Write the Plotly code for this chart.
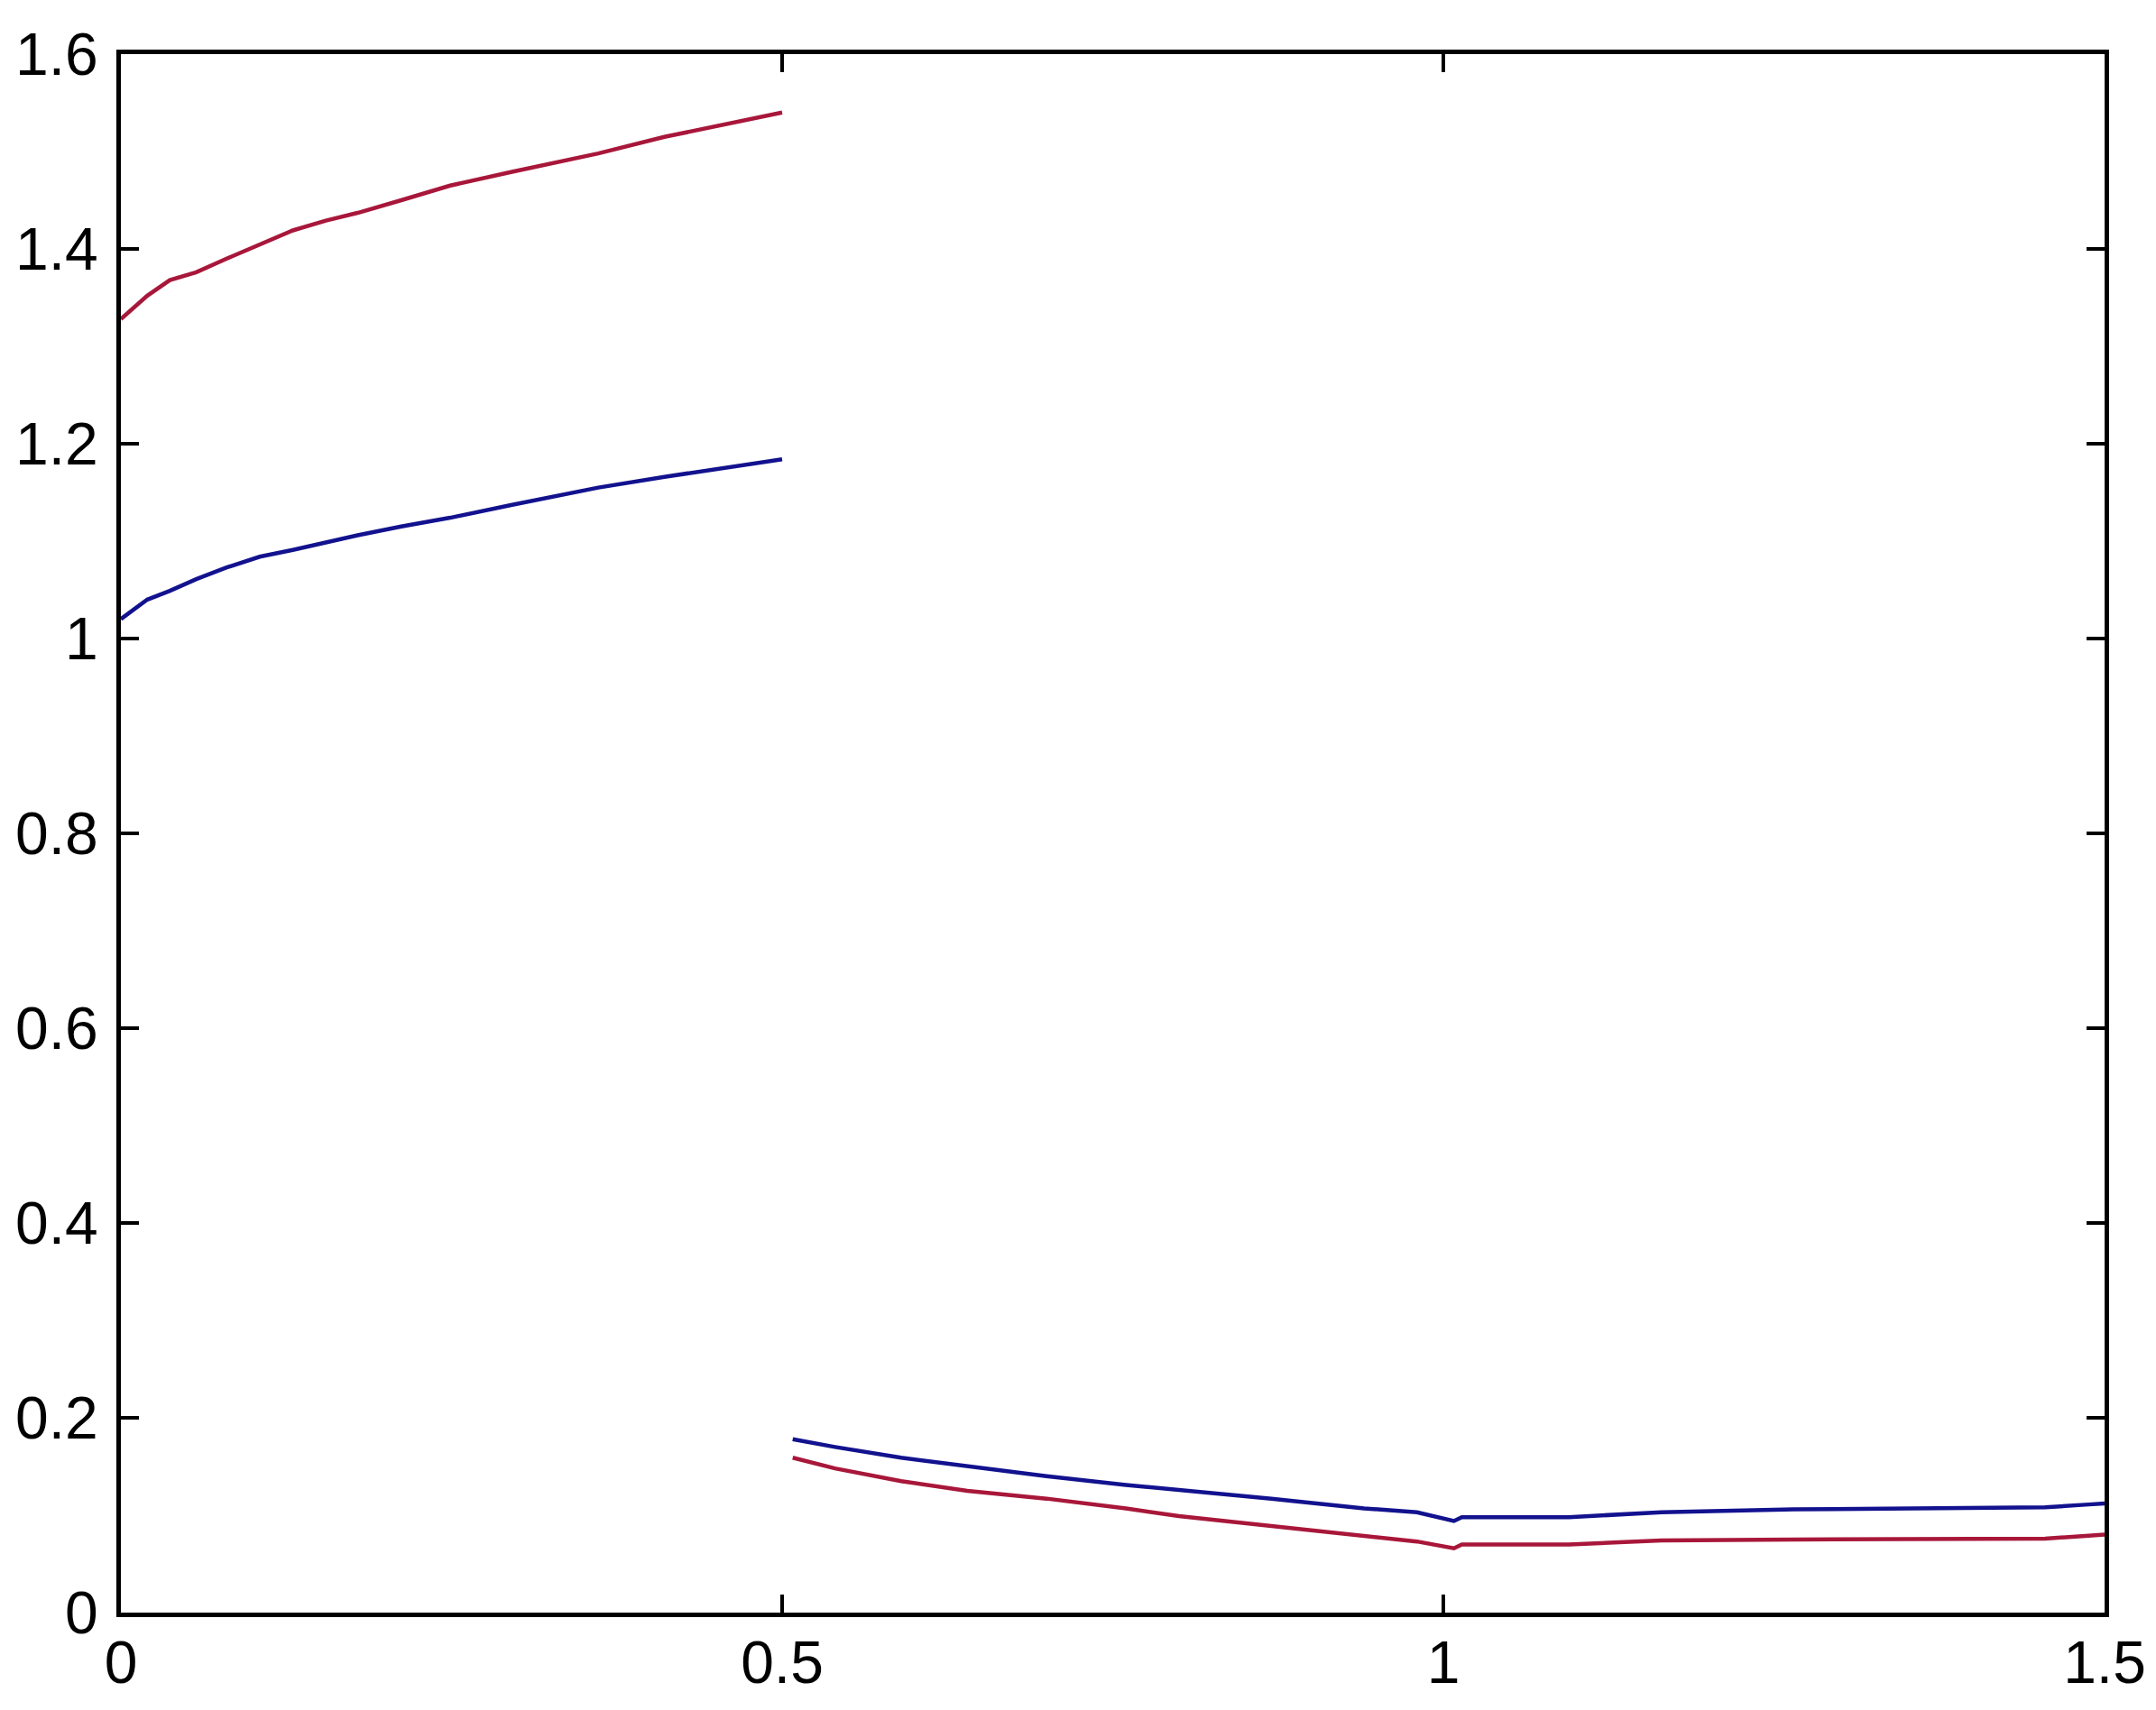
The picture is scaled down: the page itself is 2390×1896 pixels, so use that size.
import plotly.graph_objects as go

# first stage (0 .. 0.5)
x_a = [0, 0.007, 0.02, 0.037, 0.057, 0.08, 0.105, 0.13, 0.155, 0.179, 0.212, 0.249, 0.295,
       0.328, 0.361, 0.411, 0.46, 0.5]
red_a = [1.328, 1.336, 1.352, 1.368, 1.376, 1.390, 1.405, 1.419, 1.429, 1.437, 1.450, 1.465,
         1.479, 1.488, 1.498, 1.515, 1.529, 1.540]
blue_a = [1.020, 1.027, 1.040, 1.049, 1.061, 1.073, 1.084, 1.091, 1.099, 1.106, 1.115, 1.124,
          1.137, 1.146, 1.155, 1.166, 1.176, 1.184]

# second stage (0.5 .. 1.5)
x_b = [0.508, 0.54, 0.59, 0.64, 0.7, 0.76, 0.8, 0.87, 0.94, 0.98, 1.008, 1.014, 1.095, 1.165,
       1.265, 1.455, 1.488, 1.5]
blue_b = [0.178, 0.170, 0.159, 0.150, 0.140, 0.131, 0.126, 0.117, 0.107, 0.103, 0.094, 0.098,
          0.098, 0.103, 0.106, 0.108, 0.111, 0.112]
red_b = [0.159, 0.148, 0.135, 0.125, 0.117, 0.107, 0.099, 0.089, 0.079, 0.073, 0.066, 0.070,
         0.070, 0.074, 0.075, 0.076, 0.079, 0.080]

red = "#a8173a"
blue = "#12128f"

fig = go.Figure()
fig.add_trace(go.Scatter(x=x_a, y=red_a, mode="lines", line=dict(color=red, width=4.5)))
fig.add_trace(go.Scatter(x=x_a, y=blue_a, mode="lines", line=dict(color=blue, width=4.5)))
fig.add_trace(go.Scatter(x=x_b, y=blue_b, mode="lines", line=dict(color=blue, width=4.5)))
fig.add_trace(go.Scatter(x=x_b, y=red_b, mode="lines", line=dict(color=red, width=4.5)))

axis_style = dict(showline=True, linecolor="black", linewidth=5, mirror="ticks",
                  ticks="inside", ticklen=20, tickwidth=4, tickcolor="black",
                  showgrid=False, zeroline=False, automargin=False,
                  tickfont=dict(family="Liberation Sans, Arial", size=66, color="black"))

fig.update_xaxes(range=[0, 1.5], tickvals=[0, 0.5, 1, 1.5], ticktext=["0", "0.5", "1", "1.5"],
                 ticklabelstandoff=-6, **axis_style)
fig.update_yaxes(range=[0, 1.6], tickvals=[0, 0.2, 0.4, 0.6, 0.8, 1, 1.2, 1.4, 1.6],
                 ticktext=["0", "0.2", "0.4", "0.6", "0.8", "1", "1.2", "1.4", "1.6"],
                 ticklabelstandoff=7, **axis_style)

# page body adds an 8px offset, so the figure is a bit smaller than the window
fig.update_layout(width=2382, height=1888, showlegend=False,
                  plot_bgcolor="white", paper_bgcolor="white",
                  margin=dict(l=126, r=57, t=52, b=108))

fig.write_html("out.html")
